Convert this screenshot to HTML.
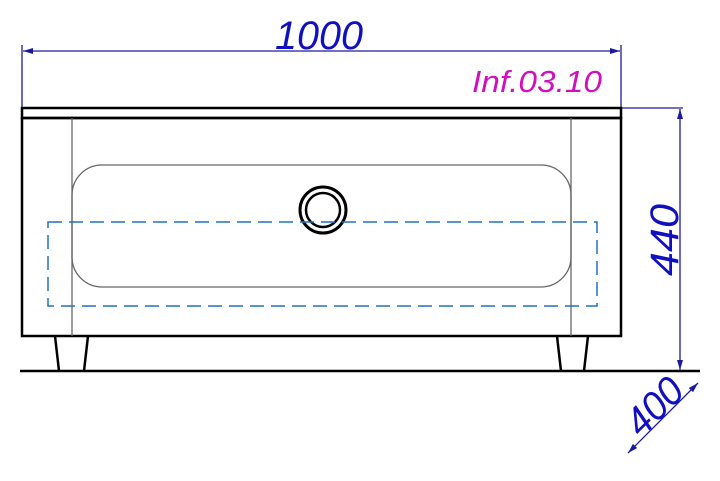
<!DOCTYPE html>
<html><head><style>body{margin:0;background:#fff}</style></head><body>
<svg width="720" height="476" viewBox="0 0 720 476" xmlns="http://www.w3.org/2000/svg">
<defs>
<marker id="a" viewBox="0 0 10 6" refX="10" refY="3" markerWidth="10" markerHeight="6" orient="auto-start-reverse" markerUnits="userSpaceOnUse"><path d="M0,0L10,3L0,6z" fill="#1a1aa0"/></marker>
</defs>
<g stroke="#1a1aa0" stroke-width="1.3" fill="none">
<line x1="22" y1="45" x2="22" y2="108"/>
<line x1="621" y1="45" x2="621" y2="108"/>
<line x1="23" y1="51" x2="620" y2="51" marker-start="url(#a)" marker-end="url(#a)"/>
<line x1="621" y1="108" x2="683" y2="108"/>
<line x1="680" y1="109" x2="680" y2="370" marker-start="url(#a)" marker-end="url(#a)"/>
<line x1="588" y1="371" x2="680" y2="371" stroke-width="2"/>
<line x1="628" y1="453" x2="698" y2="383" marker-start="url(#a)" marker-end="url(#a)"/>
</g>
<text x="319" y="49" font-family="Liberation Sans,sans-serif" font-style="italic" font-size="40" fill="#1010c0" text-anchor="middle" textLength="88" lengthAdjust="spacingAndGlyphs">1000</text>
<text x="537" y="92" font-family="Liberation Sans,sans-serif" font-style="italic" font-size="31" fill="#d010c0" text-anchor="middle" textLength="130" lengthAdjust="spacingAndGlyphs">Inf.03.10</text>
<text transform="translate(678,240) rotate(-90)" font-family="Liberation Sans,sans-serif" font-style="italic" font-size="40" fill="#1010c0" text-anchor="middle" textLength="72" lengthAdjust="spacingAndGlyphs">440</text>
<text transform="translate(664,416) rotate(-45)" font-family="Liberation Sans,sans-serif" font-style="italic" font-size="40" fill="#1010c0" text-anchor="middle" textLength="64" lengthAdjust="spacingAndGlyphs">400</text>
<g stroke="#000" fill="none">
<rect x="22" y="108" width="599" height="10" stroke-width="2.5"/>
<rect x="22" y="118" width="599" height="218" stroke-width="2.5"/>
<line x1="72" y1="118" x2="72" y2="336" stroke="#666" stroke-width="1.3"/>
<line x1="571" y1="118" x2="571" y2="336" stroke="#666" stroke-width="1.3"/>
<rect x="72" y="165" width="499" height="122" rx="30" stroke="#666" stroke-width="1.3"/>
<circle cx="323" cy="210" r="23" stroke-width="3"/>
<circle cx="323" cy="210" r="17" stroke-width="2.5"/>
<path d="M55,336L59,371M88,336L84,371M557,336L561,371M588,336L584,371" stroke-width="2.5"/>
<line x1="20" y1="371" x2="700" y2="371" stroke-width="2.5"/>
</g>
<rect x="48" y="222" width="549" height="84" fill="none" stroke="#2070c0" stroke-width="1.5" stroke-dasharray="14,7"/>
</svg>
</body></html>
